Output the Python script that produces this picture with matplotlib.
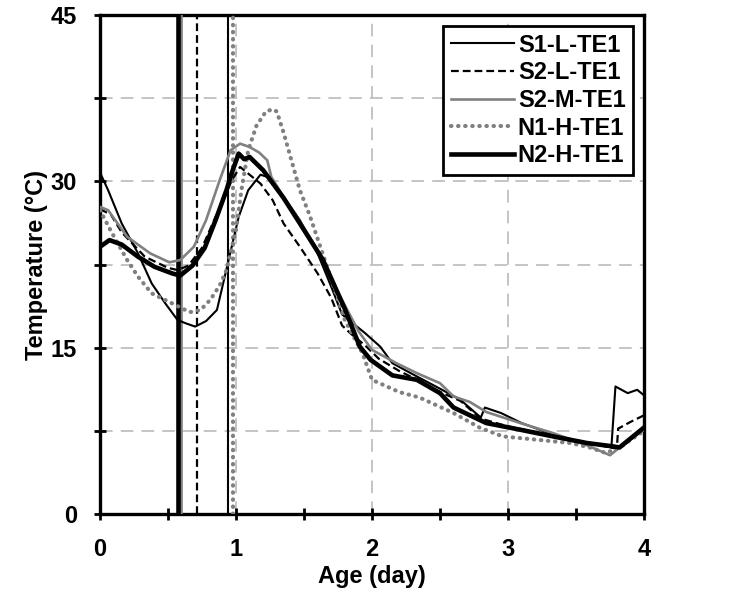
import matplotlib
matplotlib.use("Agg")
import matplotlib.pyplot as plt
from matplotlib.ticker import MultipleLocator

plt.rcParams["font.family"] = ["Liberation Sans", "DejaVu Sans"]
plt.rcParams["font.weight"] = "bold"

# --- data (age in days, temperature in deg C) ---
s1l_age = [0, 0.06, 0.16, 0.28, 0.38, 0.48, 0.57, 0.63, 0.70, 0.78, 0.86, 0.94,
           1.02, 1.09, 1.18, 1.23, 1.35, 1.47, 1.60, 1.70, 1.78, 1.86, 1.95, 2.06,
           2.15, 2.30, 2.50, 2.65, 2.80, 2.83, 2.95, 3.10, 3.30, 3.50, 3.65, 3.76,
           3.79, 3.88, 3.95, 4.00]
s1l_temp = [30.8, 29.2, 26.2, 23.5, 20.8, 19.0, 17.5, 17.2, 16.9, 17.4, 18.4, 22.6,
            26.8, 29.2, 30.6, 30.4, 28.6, 26.5, 23.5, 20.5, 18.0, 17.2, 16.3, 15.1,
            13.6, 12.6, 11.3, 10.3, 8.7, 9.6, 9.1, 8.2, 7.3, 6.6, 6.3, 6.0,
            11.5, 10.9, 11.2, 10.7]

s2l_age = [0, 0.08, 0.16, 0.33, 0.50, 0.57, 0.65, 0.75, 0.85, 0.97, 1.03, 1.10,
           1.18, 1.27, 1.35, 1.47, 1.60, 1.70, 1.78, 1.85, 1.95, 2.05, 2.20, 2.35,
           2.50, 2.65, 2.80, 3.00, 3.20, 3.40, 3.60, 3.75, 3.80, 3.81, 3.90, 4.00]
s2l_temp = [27.5, 27.0, 25.4, 23.2, 22.2, 22.0, 22.4, 24.0, 26.8, 30.1, 31.3, 30.6,
            29.8, 28.3, 26.2, 24.1, 21.7, 19.5, 17.0, 16.2, 15.2, 14.0, 12.9, 12.0,
            11.0, 10.2, 8.6, 7.9, 7.4, 6.9, 6.4, 6.0, 5.9, 7.7, 8.3, 8.9]

s2m_age = [0, 0.06, 0.20, 0.37, 0.51, 0.59, 0.69, 0.78, 0.88, 0.96, 1.03, 1.10,
           1.17, 1.23, 1.26, 1.35, 1.47, 1.60, 1.75, 1.90, 2.00, 2.18, 2.33, 2.50,
           2.60, 2.72, 2.84, 3.09, 3.33, 3.58, 3.75, 3.82, 4.00]
s2m_temp = [27.7, 27.4, 25.0, 23.5, 22.7, 22.9, 24.1, 26.5, 30.1, 32.8, 33.4, 33.1,
            32.6, 31.9, 30.4, 28.6, 26.4, 23.8, 20.0, 16.5, 14.8, 13.6, 12.7, 11.8,
            10.6, 10.1, 9.2, 8.2, 7.3, 6.2, 5.3, 6.0, 7.6]

n1h_age = [0, 0.09, 0.20, 0.28, 0.38, 0.53, 0.66, 0.74, 0.81, 0.88, 0.93, 1.00,
           1.04, 1.09, 1.15, 1.22, 1.27, 1.30, 1.35, 1.47, 1.54, 1.67, 1.80, 1.93,
           2.00, 2.20, 2.35, 2.60, 2.79, 2.96, 3.21, 3.46, 3.60, 3.72, 3.82, 4.00]
n1h_temp = [27.4, 25.3, 22.9, 21.4, 19.9, 19.0, 18.2, 18.4, 19.3, 20.6, 22.0, 25.6,
            29.2, 32.8, 35.0, 36.3, 36.5, 36.3, 34.4, 29.2, 27.0, 22.3, 17.5, 14.5,
            12.1, 11.0, 10.5, 9.1, 7.8, 7.0, 6.7, 6.4, 6.0, 5.5, 6.0, 7.5]

n2h_age = [0, 0.07, 0.16, 0.28, 0.40, 0.53, 0.59, 0.68, 0.77, 0.85, 0.93, 0.97,
           1.02, 1.06, 1.10, 1.20, 1.35, 1.47, 1.64, 1.80, 1.91, 1.99, 2.15, 2.33,
           2.50, 2.60, 2.84, 3.09, 3.33, 3.58, 3.77, 3.82, 3.92, 4.00]
n2h_temp = [24.1, 24.7, 24.3, 23.2, 22.3, 21.7, 21.5, 22.4, 24.0, 26.5, 29.2, 30.8,
            32.5, 32.0, 32.2, 31.0, 28.5, 26.2, 22.9, 18.5, 15.1, 13.9, 12.5, 12.1,
            10.9, 9.6, 8.2, 7.6, 7.0, 6.4, 6.1, 6.0, 7.0, 7.8]

# vertical marker lines (one per specimen)
s1l_mark = 0.944
s2l_mark = 0.71
s2m_mark = 0.593
n1h_mark = 0.975
n2h_mark = 0.576

GRAY = "#808080"
styles = {
    "S1-L-TE1": dict(color="black", lw=1.5, ls="-"),
    "S2-L-TE1": dict(color="black", lw=1.6, ls=(0, (3.5, 1.8))),
    "S2-M-TE1": dict(color=GRAY, lw=1.9, ls="-"),
    "N1-H-TE1": dict(color=GRAY, lw=3.0, ls=(0, (0.1, 1.6)), dash_capstyle="round"),
    "N2-H-TE1": dict(color="black", lw=3.3, ls="-"),
}

series = [
    ("S1-L-TE1", s1l_age, s1l_temp, s1l_mark),
    ("S2-L-TE1", s2l_age, s2l_temp, s2l_mark),
    ("S2-M-TE1", s2m_age, s2m_temp, s2m_mark),
    ("N1-H-TE1", n1h_age, n1h_temp, n1h_mark),
    ("N2-H-TE1", n2h_age, n2h_temp, n2h_mark),
]

fig = plt.figure(figsize=(7.34, 5.94), dpi=100)
ax = fig.add_axes([0.1362, 0.1347, 0.7412, 0.84])

for name, age, temp, mark in series:
    ax.plot([mark, mark], [0, 45], zorder=3, **styles[name])
for name, age, temp, mark in series:
    ax.plot(age, temp, label=name, zorder=4, **styles[name])

ax.set_xlim(0, 4)
ax.set_ylim(0, 45)
ax.xaxis.set_major_locator(MultipleLocator(1))
ax.xaxis.set_minor_locator(MultipleLocator(0.5))
ax.yaxis.set_major_locator(MultipleLocator(15))
ax.yaxis.set_minor_locator(MultipleLocator(7.5))

grid_kw = dict(color="#bfbfbf", lw=1.3, ls=(0, (7, 4.5)))
ax.grid(True, axis="x", which="major", **grid_kw)
ax.grid(True, axis="y", which="both", **grid_kw)
ax.set_axisbelow(True)

for side in ax.spines.values():
    side.set_linewidth(2.4)
ax.tick_params(which="both", direction="inout", length=9, width=2.0,
               labelsize=17)
ax.tick_params(axis="y", which="both", pad=12)
ax.tick_params(axis="x", which="both", pad=13)

ax.set_xlabel("Age (day)", fontsize=17, fontweight="bold", labelpad=3)
ax.set_ylabel("Temperature (°C)", fontsize=17, fontweight="bold", labelpad=2)

leg = ax.legend(loc="upper right", bbox_to_anchor=(0.98, 0.978), fontsize=17,
                frameon=True, fancybox=False, framealpha=1, edgecolor="black",
                handlelength=2.7, handletextpad=0.15, labelspacing=0.2,
                borderpad=0.32, borderaxespad=0)
leg.get_frame().set_linewidth(2.0)

fig.savefig("out.png", dpi=100)
